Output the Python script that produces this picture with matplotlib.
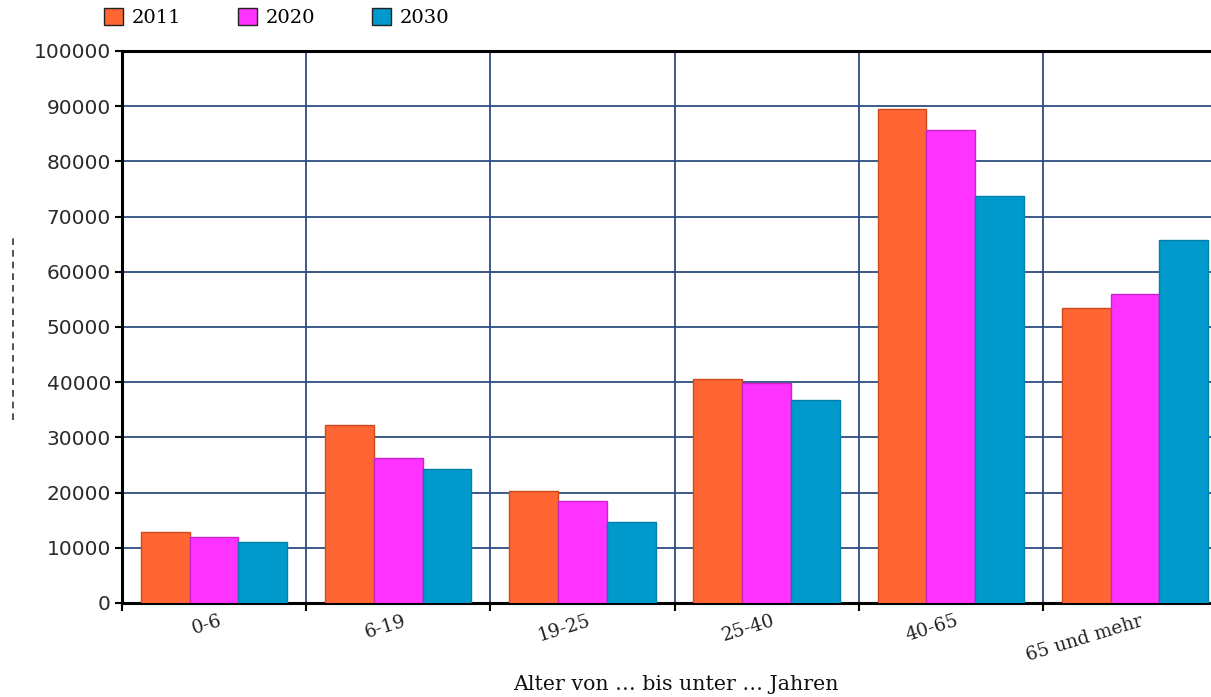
import matplotlib
matplotlib.use("Agg")
import matplotlib.pyplot as plt
import numpy as np
from matplotlib.lines import Line2D
from matplotlib.patches import Patch
from matplotlib.transforms import ScaledTranslation

categories = ["0-6", "6-19", "19-25", "25-40", "40-65", "65 und mehr"]
series_names = ["2011", "2020", "2030"]
v2011 = [12900, 32300, 20300, 40600, 89500, 53400]
v2020 = [12000, 26300, 18500, 39900, 85700, 56000]
v2030 = [11100, 24300, 14700, 36800, 73700, 65800]
colors = ["#FF6633", "#FF33FF", "#0099CC"]
edges = ["#CC4A1E", "#CC22CC", "#0080AA"]
yticks = list(range(0, 100001, 10000))
xlabel = "Alter von \u2026 bis unter \u2026 Jahren"

SERIF = ['DejaVu Serif']
SANS = ['DejaVu Sans']

fig = plt.figure(figsize=(12.11, 6.97), dpi=100)
ax = fig.add_axes([122/1211, 1-603/697, (1227-122)/1211, (603-51)/697])

x = np.arange(len(categories))
w = 0.265
for i, (vals, c, ec, name) in enumerate(zip([v2011, v2020, v2030], colors, edges, series_names)):
    ax.bar(x + (i-1)*w, vals, width=w, color=c, edgecolor=ec, linewidth=1, zorder=3, label=name)

ax.set_xlim(-0.5, len(categories)-0.5)
ax.set_ylim(0, 100000)
ax.set_yticks(yticks)
ax.set_yticklabels([str(t) for t in yticks], fontsize=14.5, color="#2a2a2a", family=SANS)
ax.set_xticks(np.arange(len(categories)+1) - 0.5)
ax.set_xticklabels([])
ax.tick_params(axis='x', which='major', length=6, width=1.5, direction='out', color='black')
ax.tick_params(axis='y', length=5, width=1.5, direction='out', color='black', pad=3)

# category labels, rotated and right-anchored near each category centre
off = ScaledTranslation(5/100, -9/100, fig.dpi_scale_trans)
for xi, lab in zip(x, categories):
    ax.text(xi, 0, lab, transform=ax.get_xaxis_transform() + off, rotation=17,
            rotation_mode='anchor', ha='right', va='top', fontsize=13.5,
            color="#222222", family=SERIF, clip_on=False)

ax.grid(True, which='major', axis='both', color="#2B4D7E", linewidth=1.3, zorder=0)
ax.set_axisbelow(True)

for s in ['left', 'bottom', 'top']:
    ax.spines[s].set_linewidth(2.2)
    ax.spines[s].set_color('black')
ax.spines['right'].set_visible(False)

fig.text(676/1211, 1-684/697, xlabel, ha='center', va='center', fontsize=14.8,
         color="#111111", family=SERIF)

handles = [Patch(facecolor=c, edgecolor='#222222', linewidth=1) for c in colors]
leg = fig.legend(handles, series_names, loc='upper left', bbox_to_anchor=(86/1211, 1.014),
                 ncol=3, frameon=False, handlelength=1.0, handleheight=1.0,
                 columnspacing=2.9, handletextpad=0.45, prop={'family': SERIF, 'size': 14})

# garbled rotated y-axis label shown as a dashed vertical mark
fig.add_artist(Line2D([13/1211, 13/1211], [1-420/697, 1-235/697], color='#333333',
                      linewidth=1.2, linestyle=(0, (4, 3)), transform=fig.transFigure))

fig.savefig("out.png", dpi=100)
